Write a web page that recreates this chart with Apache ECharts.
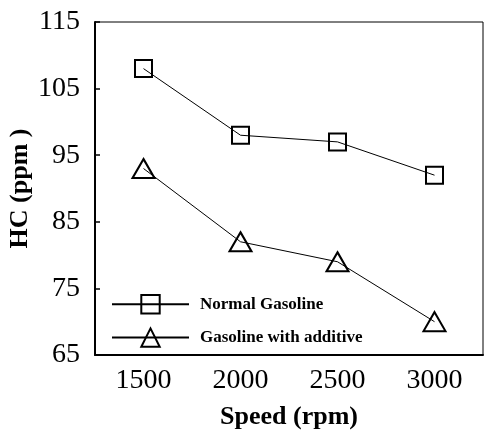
<!DOCTYPE html>
<html>
<head>
<meta charset="utf-8">
<script src="https://cdn.jsdelivr.net/npm/echarts@6/dist/echarts.min.js"></script>
<style>html,body{margin:0;padding:0;background:#fff;}#c{width:484px;height:430px;}</style>
</head>
<body>
<div id="c"></div>
<script>
const speeds = ['1500', '2000', '2500', '3000'];
const normalGasoline = [108, 98, 97, 92];
const gasolineWithAdditive = [93, 82, 79, 70];
const yTicks = [65, 75, 85, 95, 105, 115];

const FONT = '"Liberation Serif", "Times New Roman", serif';
const chart = echarts.init(document.getElementById('c'), null, {renderer: 'canvas'});
const markerStyle = {color: 'rgba(0,0,0,0)', borderColor: '#000', borderWidth: 2};
chart.setOption({
  animation: false,
  backgroundColor: '#fff',
  grid: {left: 95, right: 1, top: 22, bottom: 75, outerBoundsMode: 'none', containLabel: false,
         show: true, borderColor: '#000', borderWidth: 1, backgroundColor: 'transparent'},
  legend: {
    left: 111, top: 294, orient: 'vertical', padding: 0,
    itemWidth: 77, itemHeight: 23, itemGap: 13,
    textStyle: {fontFamily: FONT, fontWeight: 'bold', fontSize: 17, color: '#000', padding: [0, 0, 0, 6]},
    itemStyle: markerStyle,
    data: ['Normal Gasoline', 'Gasoline with additive']
  },
  xAxis: {
    type: 'category', data: speeds, boundaryGap: true,
    name: 'Speed (rpm)', nameLocation: 'middle', nameGap: 49, nameMoveOverlap: false,
    nameTextStyle: {fontFamily: FONT, fontWeight: 'bold', fontSize: 26, color: '#000'},
    axisLine: {lineStyle: {color: '#000', width: 2}},
    axisTick: {inside: true, alignWithLabel: true, length: 5, lineStyle: {color: '#000', width: 1.5}},
    axisLabel: {fontFamily: FONT, fontSize: 28, color: '#000', margin: 12},
    splitLine: {show: false}
  },
  yAxis: {
    type: 'value', min: 65, max: 115, interval: 10,
    name: 'HC (ppm )', nameLocation: 'middle', nameGap: 62, nameMoveOverlap: false,
    nameTextStyle: {fontFamily: FONT, fontWeight: 'bold', fontSize: 26, color: '#000'},
    axisLine: {show: true, lineStyle: {color: '#000', width: 2}},
    axisTick: {show: true, inside: true, length: 5, lineStyle: {color: '#000', width: 1.5}, customValues: yTicks},
    axisLabel: {fontFamily: FONT, fontSize: 28, color: '#000', margin: 15, customValues: yTicks},
    splitLine: {show: false}
  },
  series: [
    {
      name: 'Normal Gasoline', type: 'line', data: normalGasoline,
      symbol: 'rect', symbolSize: 17, showAllSymbol: true,
      lineStyle: {color: '#000', width: 1},
      itemStyle: markerStyle, z: 2
    },
    {
      name: 'Gasoline with additive', type: 'line', data: gasolineWithAdditive,
      symbol: 'triangle', symbolSize: [22, 19], showAllSymbol: true,
      lineStyle: {color: '#000', width: 1},
      itemStyle: markerStyle, z: 2
    }
  ]
});
</script>
</body>
</html>
